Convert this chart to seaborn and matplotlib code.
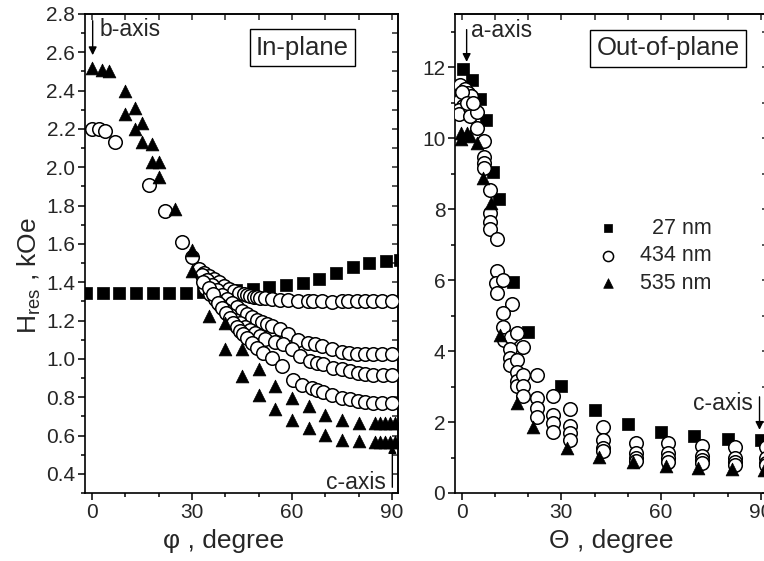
import matplotlib
matplotlib.use("Agg")
import matplotlib.pyplot as plt
import seaborn as sns
from matplotlib.ticker import MultipleLocator, FormatStrFormatter

# ---- In-plane data (phi, degree ; Hres, kOe) ----
phi_27 = [-1.8, 3.2, 8.2, 13.2, 18.2, 23.2, 28.2, 33.2, 38.2, 43.2, 48.2, 53.2, 58.2, 63.2, 68.2, 73.2, 78.2, 83.2, 88.2, 92.5]
h_27 = [1.345, 1.345, 1.345, 1.345, 1.345, 1.345, 1.345, 1.35, 1.355, 1.36, 1.365, 1.373, 1.383, 1.397, 1.418, 1.447, 1.477, 1.50, 1.512, 1.515]

# 434 nm: common part, then four branches
phi_434_common = [0, 2, 4, 7, 17, 22, 27, 30]
h_434_common = [2.20, 2.20, 2.19, 2.13, 1.91, 1.77, 1.61, 1.53]
phi_434_b1 = [32, 33.5, 35, 36.5, 38, 39.5, 41, 42.5, 44, 45.5, 46.5, 47.5, 48.5, 49.5, 50.5, 52, 54, 56.4, 58.9, 61.9, 64.9, 66.4, 68.9, 71.9, 74.9, 76.9, 79.4, 81.9, 84.4, 86.9, 90]
h_434_b1 = [1.47, 1.45, 1.43, 1.415, 1.40, 1.38, 1.365, 1.355, 1.345, 1.338, 1.333, 1.329, 1.325, 1.322, 1.32, 1.317, 1.313, 1.308, 1.305, 1.30, 1.30, 1.30, 1.30, 1.298, 1.30, 1.30, 1.30, 1.30, 1.30, 1.30, 1.30]
phi_434_b2 = [33, 34.5, 36, 37.5, 39, 40.5, 42, 43.5, 45, 46.5, 48, 49.5, 51, 52.5, 54, 56.4, 58.9, 61.9, 64.9, 66.9, 68.9, 71.9, 74.9, 77, 79.4, 81.9, 84.4, 86.9, 90]
h_434_b2 = [1.44, 1.41, 1.385, 1.36, 1.335, 1.31, 1.29, 1.27, 1.25, 1.235, 1.22, 1.205, 1.19, 1.18, 1.17, 1.154, 1.128, 1.10, 1.085, 1.076, 1.065, 1.05, 1.037, 1.03, 1.027, 1.025, 1.024, 1.024, 1.024]
phi_434_b3 = [34, 35.5, 37, 38.5, 40, 41.5, 43, 44.5, 46, 47.5, 49, 50.5, 52, 54.9, 57.4, 59.9, 62.4, 65.4, 67.4, 69.4, 72.4, 74.9, 77.4, 79.9, 81.9, 84.4, 87.4, 90]
h_434_b3 = [1.37, 1.34, 1.31, 1.28, 1.255, 1.23, 1.205, 1.185, 1.165, 1.15, 1.135, 1.12, 1.105, 1.09, 1.076, 1.05, 1.015, 0.99, 0.98, 0.971, 0.953, 0.945, 0.936, 0.927, 0.919, 0.915, 0.915, 0.915]
phi_434_b4 = [33.4, 35, 36.4, 37.9, 39, 40.2, 41.3, 42.4, 43.4, 44.4, 45.4, 46.4, 47.9, 49.4, 51.4, 53.9, 56.9, 60.4, 62.9, 65.9, 67.5, 69.4, 71.9, 74.9, 77.4, 79.9, 82, 84.4, 87, 90]
h_434_b4 = [1.40, 1.37, 1.34, 1.294, 1.265, 1.241, 1.215, 1.189, 1.165, 1.146, 1.128, 1.11, 1.085, 1.058, 1.032, 1.006, 0.962, 0.892, 0.866, 0.849, 0.838, 0.827, 0.81, 0.796, 0.788, 0.779, 0.773, 0.77, 0.77, 0.77]

phi_535 = [0, 3, 5, 10, 10, 13, 15, 13, 15, 18, 18, 20, 20, 25, 30, 30, 35, 40, 40, 45, 45, 50, 50, 55, 55,
           60, 60, 65, 65, 70, 70, 75, 75, 80, 80, 85, 86.5, 88, 89.5, 91, 85, 86.5, 88, 89.5, 91]
h_535 = [2.52, 2.51, 2.50, 2.40, 2.28, 2.31, 2.23, 2.20, 2.13, 2.12, 2.03, 2.03, 1.95, 1.78, 1.57, 1.46, 1.224, 1.189, 1.05, 1.05, 0.91, 0.945, 0.814, 0.858, 0.74,
         0.796, 0.683, 0.753, 0.64, 0.709, 0.605, 0.683, 0.578, 0.666, 0.57, 0.665, 0.665, 0.665, 0.665, 0.665, 0.568, 0.568, 0.568, 0.568, 0.568]

# ---- Out-of-plane data (Theta, degree ; Hres, kOe) ----
th_27 = [0.5, 3, 5.5, 7.3, 9.3, 11.3, 15.3, 20, 30, 40, 50, 60, 70, 80, 90]
hh_27 = [11.95, 11.65, 11.1, 10.5, 9.05, 8.3, 5.95, 4.55, 3.02, 2.35, 1.95, 1.73, 1.6, 1.52, 1.5]

th_434 = [-0.5, 1, 2, 2.7, -0.5, 0.5, -0.7, -0.7, 2.5, 2.5, 4.7, 4.7, 0, 1.5, 3.5,
          6.7, 6.7, 6.7, 6.7, 8.5, 8.5, 8.5, 8.5, 10.7, 10.5, 10.3, 10.5, 12.5, 15,
          12.5, 12.5, 12.7, 14.7, 14.5, 14.5, 14.5, 16.5, 16.5, 16.5, 16.5, 16.5,
          18.5, 18.5, 18.5, 18.5, 22.6, 22.6, 22.6, 22.6, 27.4, 27.4, 27.4, 27.4,
          32.6, 32.6, 32.6, 32.6, 42.4, 42.4, 42.4, 42.4, 52.4, 52.4, 52.4, 52.4,
          62.2, 62.2, 62.2, 62.2, 72.2, 72.2, 72.2, 72.2, 82.2, 82.2, 82.2, 82.2,
          91.5, 91.5, 91.5, 91.5]
hh_434 = [11.51, 11.39, 11.28, 11.2, 11.09, 10.9, 10.8, 10.67, 10.85, 10.62, 10.73, 10.29, 11.3, 11.0, 11.0,
          9.91, 9.46, 9.30, 9.16, 8.53, 7.89, 7.63, 7.44, 7.16, 6.27, 5.92, 5.63, 5.99, 5.33,
          5.07, 4.68, 4.30, 4.39, 4.05, 3.80, 3.61, 4.52, 3.75, 3.42, 3.17, 3.02,
          4.11, 3.33, 3.02, 2.72, 3.33, 2.67, 2.39, 2.15, 2.74, 2.20, 1.97, 1.73,
          2.36, 1.89, 1.68, 1.48, 1.87, 1.48, 1.26, 1.17, 1.42, 1.12, 0.98, 0.90,
          1.42, 1.12, 0.98, 0.88, 1.33, 1.04, 0.92, 0.84, 1.29, 1.00, 0.88, 0.80,
          1.30, 1.00, 0.85, 0.78]

th_535 = [-0.3, -0.3, 1.5, 2.5, 4.5, 6.5, 8.7, 11.5, 16.5, 21.5, 31.6, 41.4, 51.5, 61.5, 71.2, 81.2, 90.8]
hh_535 = [10.15, 9.98, 10.15, 10.07, 9.87, 8.88, 8.17, 4.46, 2.53, 1.85, 1.28, 1.01, 0.86, 0.76, 0.70, 0.67, 0.65]

labels = ["  27 nm", "434 nm", "535 nm"]

sns.set_style("ticks")
plt.rcParams["font.family"] = ["Liberation Sans", "DejaVu Sans"]
plt.rcParams["mathtext.fontset"] = "custom"
plt.rcParams["mathtext.rm"] = "Liberation Sans"
plt.rcParams["axes.linewidth"] = 1.2

fig = plt.figure(figsize=(7.64, 5.61), dpi=100)
ax1 = fig.add_axes([85 / 764, 68 / 561, 313 / 764, 479 / 561])
ax2 = fig.add_axes([455 / 764, 68 / 561, 312.5 / 764, 479 / 561])


def draw_series(ax, x, y, marker, s, face, label=None, z=3):
    sns.scatterplot(x=x, y=y, ax=ax, marker=marker, s=s, color=face,
                    edgecolor="black", linewidth=1.1 if face == "white" else 0.5,
                    label=label, legend=False, zorder=z)


# in-plane
draw_series(ax1, phi_27, h_27, "s", 70, "black", z=2)
draw_series(ax1, phi_434_common, h_434_common, "o", 95, "white")
draw_series(ax1, phi_434_b1, h_434_b1, "o", 95, "white")
draw_series(ax1, phi_434_b2, h_434_b2, "o", 95, "white")
draw_series(ax1, phi_434_b3, h_434_b3, "o", 95, "white")
draw_series(ax1, phi_434_b4, h_434_b4, "o", 95, "white")
draw_series(ax1, phi_535, h_535, "^", 85, "black", z=4)

# out-of-plane
draw_series(ax2, th_27, hh_27, "s", 70, "black", label=labels[0], z=2)
draw_series(ax2, th_434, hh_434, "o", 95, "white", label=labels[1])
draw_series(ax2, th_535, hh_535, "^", 85, "black", label=labels[2], z=4)

ax1.set_xlim(-2.1, 91.8)
ax1.set_ylim(0.3, 2.8)
ax1.xaxis.set_major_locator(MultipleLocator(30))
ax1.xaxis.set_minor_locator(MultipleLocator(10))
ax1.yaxis.set_major_locator(MultipleLocator(0.2))
ax1.yaxis.set_minor_locator(MultipleLocator(0.1))
ax1.yaxis.set_major_formatter(FormatStrFormatter("%.1f"))

ax2.set_xlim(-2, 92)
ax2.set_ylim(0, 13.5)
ax2.xaxis.set_major_locator(MultipleLocator(30))
ax2.xaxis.set_minor_locator(MultipleLocator(10))
ax2.yaxis.set_major_locator(MultipleLocator(2))
ax2.yaxis.set_minor_locator(MultipleLocator(1))

for ax, ystep in ((ax1, 0.1), (ax2, 1)):
    ax.tick_params(which="major", direction="out", length=5, width=1.1, labelsize=15, pad=2, color="black")
    ax.tick_params(which="minor", direction="out", length=3, width=1.1, color="black")
    # inward ticks on top and right, no labels
    top = ax.secondary_xaxis("top")
    top.xaxis.set_major_locator(MultipleLocator(10))
    top.tick_params(direction="in", length=4, width=1.1, labeltop=False)
    right = ax.secondary_yaxis("right")
    right.yaxis.set_major_locator(MultipleLocator(ystep))
    right.tick_params(direction="in", length=4, width=1.1, labelright=False)
    for sp in ax.spines.values():
        sp.set_visible(True)
        sp.set_color("black")

ax1.set_xlabel("\u03c6 , degree", fontsize=19)
ax1.xaxis.set_label_coords(0.444, -0.075)
ax1.set_ylabel("H$_{\\rm res}$ , kOe", fontsize=19)
ax1.yaxis.set_label_coords(-0.134, 0.453)
ax2.set_xlabel("\u0398 , degree", fontsize=19)
ax2.xaxis.set_label_coords(0.50, -0.075)
ax2.set_ylabel("")

box = dict(boxstyle="square,pad=0.25", fc="white", ec="black", lw=1.0)
ax1.text(0.695, 0.93, "In-plane", transform=ax1.transAxes, ha="center", va="center", fontsize=18.5, bbox=box)
ax2.text(0.683, 0.928, "Out-of-plane", transform=ax2.transAxes, ha="center", va="center", fontsize=18.5, bbox=box)

arrow = dict(arrowstyle="-|>", color="black", lw=1.0, mutation_scale=12, shrinkA=0, shrinkB=0)
ax1.annotate("", xy=(0.2, 2.585), xytext=(0.2, 2.765), arrowprops=arrow)
ax1.text(2.2, 2.72, "b-axis", ha="left", va="center", fontsize=16.5)
ax1.annotate("", xy=(90.1, 0.55), xytext=(90.1, 0.33), arrowprops=arrow)
ax1.text(88.2, 0.355, "c-axis", ha="right", va="center", fontsize=16.5)
ax2.annotate("", xy=(1.5, 12.15), xytext=(1.5, 13.06), arrowprops=arrow)
ax2.text(2.7, 13.04, "a-axis", ha="left", va="center", fontsize=16.5)
ax2.annotate("", xy=(89.6, 1.78), xytext=(89.6, 2.71), arrowprops=arrow)
ax2.text(87.7, 2.51, "c-axis", ha="right", va="center", fontsize=16.5)

ax2.legend(loc="center left", bbox_to_anchor=(0.455, 0.495), frameon=False, fontsize=15.5,
           markerscale=0.75, handlelength=1.0, handletextpad=1.0, labelspacing=0.3,
           borderpad=0, borderaxespad=0)

fig.savefig("out.png", dpi=100)
